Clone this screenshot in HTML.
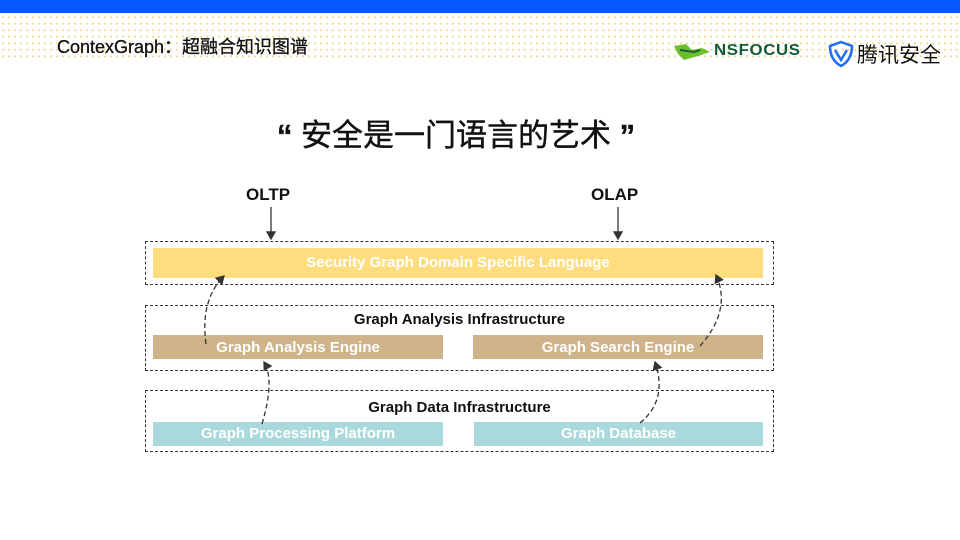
<!DOCTYPE html>
<html><head><meta charset="utf-8"><style>
body{margin:0;width:960px;height:540px;position:relative;background:#fff;overflow:hidden;font-family:"Liberation Sans","Noto Sans CJK SC",sans-serif}
.bar{position:absolute;left:0;top:0;width:960px;height:13px;background:#0359fd}
.dots{position:absolute;left:0;top:14px;width:960px;height:48px;background-image:radial-gradient(circle,#f5d58a 0.8px,transparent 1.2px);background-size:6px 6.5px}
.hd{position:absolute;left:57px;top:33px;font-size:18px;color:#111;-webkit-text-stroke:0.3px #111}
.t{position:absolute;left:0;width:912px;top:110px;text-align:center;font-size:31px;color:#111;-webkit-text-stroke:0.4px #111}
.lbl{position:absolute;font-weight:bold;font-size:17px;color:#111}
.box{position:absolute;border:1.4px dashed #333;box-sizing:border-box}
.r{position:absolute;color:#fff;font-weight:bold;font-size:15px;text-align:center;box-sizing:border-box}
.h{position:absolute;font-weight:bold;font-size:15px;color:#111;text-align:center}
</style></head><body>
<div class="bar"></div><div class="dots"></div>
<div class="hd">ContexGraph：超融合知识图谱</div>
<div style="position:absolute;left:672px;top:42px;width:40px;height:18px">
<svg width="42" height="20"><path d="M2 4 L14 2 L20 8 L30 6 L38 10 L26 14 L12 18 L6 12 Z" fill="#6cbf2c"/><path d="M8 8 L22 10 L28 8" stroke="#1a5e38" stroke-width="2" fill="none"/></svg></div>
<div style="position:absolute;left:714px;top:42px;font-weight:bold;font-size:16px;color:#0f5a3a;letter-spacing:0.6px;transform:scaleX(1.05);transform-origin:left">NSFOCUS</div>
<svg style="position:absolute;left:828px;top:40px" width="26" height="28"><path d="M13 2 L24 6 Q24 20 13 26 Q2 20 2 6 Z" fill="none" stroke="#1d6ef5" stroke-width="2.5"/><path d="M7 10 L13 20 L19 10" fill="none" stroke="#1d6ef5" stroke-width="2.5"/></svg>
<div style="position:absolute;left:857px;top:39px;font-size:21px;color:#111">腾讯安全</div>
<div class="t"><b>“</b> 安全是一门语言的艺术 <b>”</b></div>
<div class="lbl" style="left:246px;top:185px">OLTP</div>
<div class="lbl" style="left:591px;top:185px">OLAP</div>
<svg style="position:absolute;left:0;top:0" width="960" height="540">
<defs><marker id="a" markerWidth="8" markerHeight="8" refX="6" refY="4" orient="auto"><path d="M0 0 L7 4 L0 8 Z" fill="#333"/></marker></defs>
<line x1="271" y1="207" x2="271" y2="239" stroke="#333" stroke-width="1.3" marker-end="url(#a)"/>
<line x1="618" y1="207" x2="618" y2="239" stroke="#333" stroke-width="1.3" marker-end="url(#a)"/>
</svg>
<div class="box" style="left:145px;top:241px;width:629px;height:44px"></div>
<div class="r" style="left:153px;top:248px;width:610px;height:30px;background:#ffdd7f;line-height:30px">Security Graph Domain Specific Language</div>
<div class="box" style="left:145px;top:305px;width:629px;height:66px"></div>
<div class="h" style="left:145px;top:311px;width:629px">Graph Analysis Infrastructure</div>
<div class="r" style="left:153px;top:335px;width:290px;height:24px;background:#cfb38a;line-height:25px">Graph Analysis Engine</div>
<div class="r" style="left:473px;top:335px;width:290px;height:24px;background:#cfb38a;line-height:25px">Graph Search Engine</div>
<div class="box" style="left:145px;top:390px;width:629px;height:62px"></div>
<div class="h" style="left:145px;top:399px;width:629px">Graph Data Infrastructure</div>
<div class="r" style="left:153px;top:422px;width:290px;height:24px;background:#a9d9dc;line-height:24px">Graph Processing Platform</div>
<div class="r" style="left:474px;top:422px;width:289px;height:24px;background:#a9d9dc;line-height:24px">Graph Database</div>
<svg style="position:absolute;left:0;top:0" width="960" height="540">
<g fill="none" stroke="#333" stroke-width="1.3" stroke-dasharray="5 3">
<path d="M206 344 Q200 300 224 276" marker-end="url(#a)"/>
<path d="M262 424 Q275 380 264 362" marker-end="url(#a)"/>
<path d="M700 346 Q732 310 716 275" marker-end="url(#a)"/>
<path d="M640 423 Q668 400 655 362" marker-end="url(#a)"/>
</g></svg>
</body></html>
